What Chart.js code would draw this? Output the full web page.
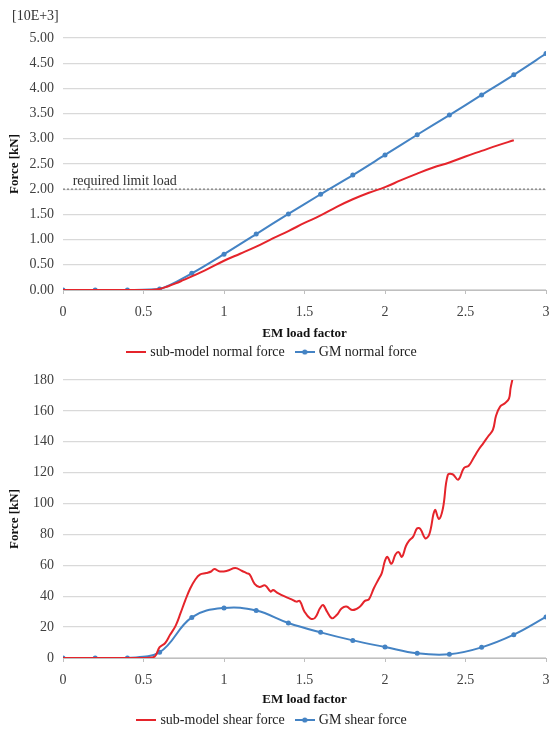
<!DOCTYPE html>
<html>
<head>
<meta charset="utf-8">
<script src="https://cdn.jsdelivr.net/npm/chart.js@4.4.1/dist/chart.umd.min.js"></script>
<style>
html,body{margin:0;padding:0;background:#fff;overflow:hidden;width:552px;height:731px;}
#c1{position:absolute;left:0;top:0;}
#c2{position:absolute;left:0;top:362px;}
</style>
</head>
<body>
<canvas id="c1" width="552" height="369"></canvas>
<canvas id="c2" width="552" height="375"></canvas>
<script>
// ---------- data ----------
const gmLoadFactor = [0, 0.2, 0.4, 0.6, 0.8, 1.0, 1.2, 1.4, 1.6, 1.8, 2.0, 2.2, 2.4, 2.6, 2.8, 3.0];
const gmNormalForce = [0, 0, 0, 0.02, 0.33, 0.71, 1.11, 1.51, 1.90, 2.28, 2.68, 3.08, 3.47, 3.87, 4.27, 4.69];
const subNormalLoad = [0, 0.2, 0.4, 0.5, 0.55, 0.6, 0.65, 0.7, 0.75, 0.8, 0.9, 1.0, 1.1, 1.2, 1.3, 1.4, 1.5, 1.6, 1.7, 1.8, 1.9, 2.0, 2.1, 2.2, 2.3, 2.4, 2.5, 2.6, 2.7, 2.8];
const subNormalForce = [0, 0, 0, 0, 0, 0.02, 0.07, 0.13, 0.2, 0.27, 0.42, 0.58, 0.72, 0.86, 1.02, 1.17, 1.33, 1.48, 1.65, 1.8, 1.93, 2.04, 2.18, 2.31, 2.43, 2.53, 2.65, 2.76, 2.87, 2.97];
const requiredLimitLoad = 2.0;

const gmShearForce = [0, 0, 0, 3.7, 26.3, 32.4, 30.7, 22.7, 16.6, 11.4, 7.1, 3.0, 2.4, 6.9, 15.1, 26.6];
const subShearLoad = [0, 0.2, 0.4, 0.5, 0.52, 0.57, 0.6, 0.635, 0.665, 0.7, 0.73, 0.76, 0.79, 0.82, 0.85, 0.89, 0.92, 0.94, 0.975, 1.02, 1.07, 1.11, 1.14, 1.16, 1.19, 1.22, 1.255, 1.29, 1.305, 1.335, 1.38, 1.42, 1.45, 1.47, 1.5, 1.535, 1.565, 1.595, 1.615, 1.64, 1.67, 1.7, 1.73, 1.76, 1.8, 1.845, 1.875, 1.9, 1.93, 1.96, 1.98, 2.0, 2.015, 2.04, 2.065, 2.085, 2.105, 2.13, 2.15, 2.175, 2.2, 2.22, 2.25, 2.275, 2.31, 2.335, 2.36, 2.39, 2.42, 2.455, 2.49, 2.52, 2.55, 2.58, 2.61, 2.64, 2.67, 2.69, 2.715, 2.745, 2.77, 2.78, 2.795];
const subShearForce = [0, 0, 0, 0, 0, 1, 7, 9.7, 15, 21, 29, 37.5, 45, 50.5, 54, 55, 56, 57.6, 56, 56.5, 58.3, 56.5, 55, 54, 48, 46, 47, 43, 44, 42, 39.7, 38, 36.5, 37, 30, 25.7, 26, 32, 34.3, 30, 25.7, 27.8, 32, 33.3, 31, 33.3, 37, 38, 45, 51, 55, 63, 65.5, 61, 67, 68.5, 65.5, 72.5, 76, 78.6, 84, 83.5, 77.5, 80, 95.8, 90, 97, 118.5, 119, 115.5, 123, 124.5, 129.5, 134.7, 139, 143.4, 147.7, 157, 162.8, 165, 168, 174.7, 182];

const xTicksStep = 0.5;
const normalTicksStep = 0.5;
const shearTicksStep = 20;

// ---------- style ----------
const RED = '#e5242b';
const BLUE = '#4483c4';
const GRID = '#d9d9d9';
const FONT = "'Liberation Serif','Times New Roman',serif";

function pts(xs, ys) { return xs.map((x, i) => ({x: x, y: ys[i]})); }

function legendImg(color, marker) {
  const c = document.createElement('canvas');
  c.width = 20; c.height = 8;
  const g = c.getContext('2d');
  g.strokeStyle = color; g.lineWidth = 2;
  g.beginPath(); g.moveTo(0, 4); g.lineTo(20, 4); g.stroke();
  if (marker) { g.fillStyle = color; g.beginPath(); g.arc(10, 4, 2.6, 0, Math.PI * 2); g.fill(); }
  return c;
}

function makeOptions(cfg) {
  return {
    responsive: false,
    animation: false,
    layout: {padding: {top: cfg.padTop, right: 6, left: 0, bottom: 0}},
    plugins: {
      tooltip: {enabled: false},
      legend: {
        position: 'bottom',
        labels: {
          usePointStyle: true,
          pointStyleWidth: 14,
          boxHeight: 8,
          padding: 13,
          color: '#222',
          font: {family: FONT, size: 14},
          generateLabels: () => cfg.legend.map((l, i) => ({
            text: l.text, pointStyle: legendImg(l.color, l.marker),
            fillStyle: 'rgba(0,0,0,0)', strokeStyle: 'rgba(0,0,0,0)', lineWidth: 0,
            datasetIndex: i, fontColor: '#222'
          }))
        }
      }
    },
    scales: {
      x: {
        type: 'linear', min: 0, max: 3,
        afterFit: s => { s.height = cfg.xHeight; s.paddingLeft = 0; s.paddingRight = 0; },
        ticks: {stepSize: xTicksStep, color: '#404040', padding: 10, font: {family: FONT, size: 14}, maxRotation: 0,
                callback: v => String(Math.round(v * 100) / 100)},
        grid: {drawOnChartArea: false, drawTicks: true, tickLength: 4, color: '#bfbfbf'},
        border: {display: true, color: '#bfbfbf'},
        title: {display: true, text: 'EM load factor', color: '#111', font: {family: FONT, size: 13, weight: 'bold'}, padding: {top: 0, bottom: cfg.titlePadBottom}}
      },
      y: {
        min: 0, max: cfg.yMax,
        afterFit: s => { s.width = 63; },
        ticks: {stepSize: cfg.yStep, color: '#404040', padding: 9, font: {family: FONT, size: 14}, callback: cfg.yFmt},
        grid: {color: GRID, lineWidth: 1.3, drawTicks: false},
        border: {display: false},
        title: {display: true, text: 'Force [kN]', color: '#111', font: {family: FONT, size: 13, weight: 'bold'}, padding: {top: 7, bottom: 0}}
      }
    }
  };
}

const annotPlugin = {
  id: 'annot',
  afterDraw(chart) {
    const ctx = chart.ctx;
    const xs = chart.scales.x, ys = chart.scales.y;
    ctx.save();
    ctx.fillStyle = '#333';
    ctx.font = '14px ' + FONT;
    ctx.textBaseline = 'middle';
    ctx.textAlign = 'left';
    ctx.fillText('[10E+3]', 12, 16);
    ctx.textBaseline = 'alphabetic';
    ctx.fillText('required limit load', xs.getPixelForValue(0.06), ys.getPixelForValue(requiredLimitLoad) - 4);
    ctx.restore();
  }
};

new Chart(document.getElementById('c1'), {
  type: 'line',
  data: {
    datasets: [
      {label: 'sub-model normal force', data: pts(subNormalLoad, subNormalForce), borderColor: RED, borderWidth: 2, pointRadius: 0, tension: 0.4},
      {label: 'GM normal force', data: pts(gmLoadFactor, gmNormalForce), borderColor: BLUE, backgroundColor: BLUE, borderWidth: 2, pointRadius: 2.5, pointBorderWidth: 0, tension: 0.3},
      {label: 'required limit load', data: [{x: 0, y: requiredLimitLoad}, {x: 3, y: requiredLimitLoad}], borderColor: '#8c8c8c', borderWidth: 1.5, borderDash: [2, 2], pointRadius: 0}
    ]
  },
  options: makeOptions({
    padTop: 38, xHeight: 42, titlePadBottom: -9, yMax: 5, yStep: normalTicksStep,
    yFmt: v => v.toFixed(2),
    legend: [{text: 'sub-model normal force', color: RED, marker: false}, {text: 'GM normal force', color: BLUE, marker: true}]
  }),
  plugins: [annotPlugin]
});

new Chart(document.getElementById('c2'), {
  type: 'line',
  data: {
    datasets: [
      {label: 'sub-model shear force', data: pts(subShearLoad, subShearForce), borderColor: RED, borderWidth: 2, pointRadius: 0, tension: 0.4},
      {label: 'GM shear force', data: pts(gmLoadFactor, gmShearForce), borderColor: BLUE, backgroundColor: BLUE, borderWidth: 2, pointRadius: 2.5, pointBorderWidth: 0, tension: 0.4}
    ]
  },
  options: makeOptions({
    padTop: 18, xHeight: 42, titlePadBottom: -7, yMax: 180, yStep: shearTicksStep,
    yFmt: v => String(v),
    legend: [{text: 'sub-model shear force', color: RED, marker: false}, {text: 'GM shear force', color: BLUE, marker: true}]
  })
});
</script>
</body>
</html>
